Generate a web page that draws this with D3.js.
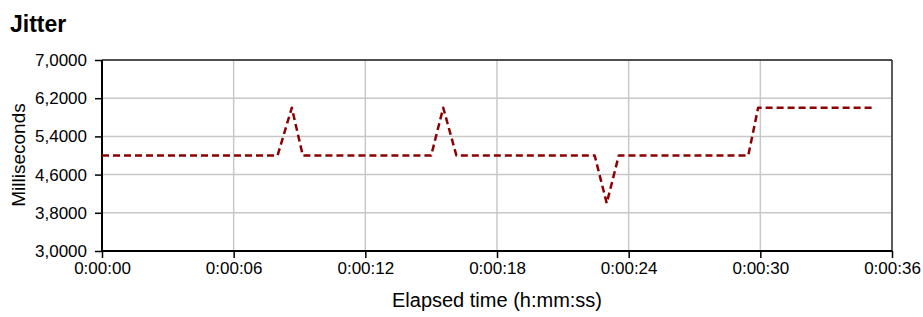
<!DOCTYPE html>
<html>
<head>
<meta charset="utf-8">
<script src="https://cdn.jsdelivr.net/npm/d3@7"></script>
<style>
  body { margin: 0; background: #fff; }
  svg text { font-family: "Liberation Sans", Arial, sans-serif; fill: #000; }
</style>
</head>
<body>
<svg id="chart"></svg>
<script>
// elapsed seconds and jitter (ms)
var times  = [0, 8.0, 8.65, 9.15, 15.0, 15.55, 16.15, 22.45, 23.0, 23.55, 29.45, 29.9, 35.1];
var jitter = [5, 5,   6.0,  5,    5,    6.0,   5,     5,     4.0,  5,     5,     6.0,  6.0];
var yTicks = [3, 3.8, 4.6, 5.4, 6.2, 7];
var xTicks = [0, 6, 12, 18, 24, 30, 36];

var WIDTH = 923, HEIGHT = 317;
var plotL = 102, plotR = 892, plotT = 60, plotB = 251;

var svg = d3.select("#chart").attr("width", WIDTH).attr("height", HEIGHT);

var x = d3.scaleLinear().domain([0, 36]).range([plotL, plotR]);
var y = d3.scaleLinear().domain([3, 7]).range([plotB, plotT]);

function fmtTime(s) {
    var m = Math.floor(s / 60), sec = s % 60;
    return "0:" + (m < 10 ? "0" : "") + m + ":" + (sec < 10 ? "0" : "") + sec;
}

// gridlines
svg.append("g").selectAll("line").data(yTicks).enter().append("line")
    .attr("x1", plotL).attr("x2", plotR)
    .attr("y1", function(d){ return y(d); }).attr("y2", function(d){ return y(d); })
    .attr("stroke", "#c8c8c8").attr("stroke-width", 1.5);
svg.append("g").selectAll("line").data(xTicks).enter().append("line")
    .attr("y1", plotT).attr("y2", plotB)
    .attr("x1", function(d){ return x(d); }).attr("x2", function(d){ return x(d); })
    .attr("stroke", "#c8c8c8").attr("stroke-width", 1.5);

// frame
svg.append("line").attr("x1", plotL).attr("x2", plotR).attr("y1", plotT).attr("y2", plotT)
    .attr("stroke", "#222").attr("stroke-width", 1.5);
svg.append("line").attr("x1", plotR).attr("x2", plotR).attr("y1", plotT).attr("y2", plotB)
    .attr("stroke", "#333").attr("stroke-width", 1.5);

// axes
var yAxis = d3.axisLeft(y).tickValues(yTicks).tickSize(7).tickPadding(8)
    .tickFormat(function(d){ return d.toFixed(4).replace(".", ","); });
var gy = svg.append("g").attr("transform", "translate(" + plotL + ",0)").call(yAxis);
var xAxis = d3.axisBottom(x).tickValues(xTicks).tickSize(7).tickPadding(4).tickFormat(fmtTime);
var gx = svg.append("g").attr("transform", "translate(0," + plotB + ")").call(xAxis);

[gy, gx].forEach(function(g){
    g.select(".domain").attr("stroke", "#000").attr("stroke-width", 2);
    g.selectAll(".tick line").attr("stroke", "#000").attr("stroke-width", 1.5);
    g.selectAll("text").style("font-size", "17px").style("font-family", "'Liberation Sans', Arial, sans-serif").attr("fill", "#000");
});
gy.select(".domain").attr("d", "M0," + plotT + "V" + plotB);
gx.select(".domain").attr("d", "M" + plotL + ",0H" + plotR);

// series
var line = d3.line()
    .x(function(d, i){ return x(times[i]); })
    .y(function(d){ return y(d); });
svg.append("path").datum(jitter)
    .attr("d", line)
    .attr("fill", "none")
    .attr("stroke", "#8b0000")
    .attr("stroke-width", 2.5)
    .attr("stroke-linejoin", "round")
    .attr("stroke-dasharray", "7,4");

// titles
svg.append("text").attr("x", 10).attr("y", 32).text("Jitter")
    .style("font-size", "23px").style("font-weight", "bold");
svg.append("text").attr("x", (plotL + plotR) / 2).attr("y", 307).attr("text-anchor", "middle")
    .style("font-size", "20px").text("Elapsed time (h:mm:ss)");
svg.append("text").attr("transform", "translate(25,155) rotate(-90)").attr("text-anchor", "middle")
    .style("font-size", "19px").text("Milliseconds");
</script>
</body>
</html>
